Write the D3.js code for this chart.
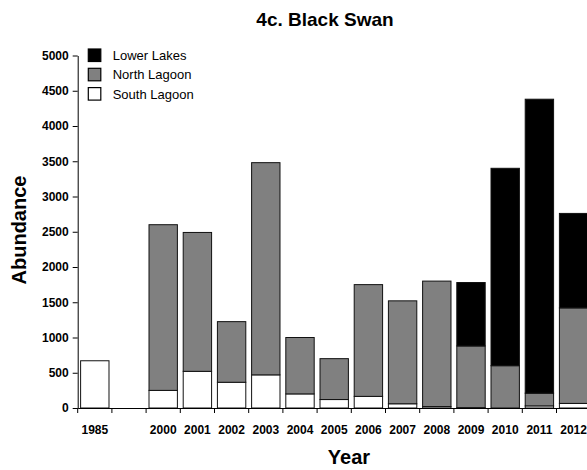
<!DOCTYPE html>
<html><head><meta charset="utf-8">
<script src="https://cdn.jsdelivr.net/npm/d3@7"></script>
<style>body{margin:0;background:#fff}svg{display:block}</style>
</head><body>
<svg id="c" width="587" height="470"></svg>
<script>
const years = ["1985","","2000","2001","2002","2003","2004","2005","2006","2007","2008","2009","2010","2011","2012"];
const southLagoon = [670,0,250,520,365,470,200,120,165,60,20,5,0,30,65];
const northLagoon = [0,0,2350,1970,860,3010,800,580,1585,1460,1780,875,600,180,1355];
const lowerLakes  = [0,0,0,0,0,0,0,0,0,0,0,900,2800,4170,1340];
const seriesKeys = ["South Lagoon","North Lagoon","Lower Lakes"];
const legendOrder = ["Lower Lakes","North Lagoon","South Lagoon"];
const yTicks = [0,500,1000,1500,2000,2500,3000,3500,4000,4500,5000];

const colors = {"Lower Lakes":"#000000","North Lagoon":"#808080","South Lagoon":"#ffffff"};
const font = "'Liberation Sans', Arial, sans-serif";

const rows = years.map((y,i)=>({year:y,"South Lagoon":southLagoon[i],"North Lagoon":northLagoon[i],"Lower Lakes":lowerLakes[i]}));
const stacked = d3.stack().keys(seriesKeys)(rows);

const svg = d3.select("#c");
const x0 = 77.7, x1 = x0 + 15*34.2;
const x = d3.scaleBand().domain(years).range([x0,x1]).paddingInner(0.17).paddingOuter(0.085);
const y = d3.scaleLinear().domain([0,5000]).range([408,55.5]);

// bars
svg.append("g").selectAll("g").data(stacked).join("g")
  .attr("fill", d=>colors[d.key])
  .selectAll("rect").data(d=>d.filter(s=>s[1]-s[0]>0)).join("rect")
  .attr("x", d=>x(d.data.year))
  .attr("width", x.bandwidth())
  .attr("y", d=>y(d[1]))
  .attr("height", d=>y(d[0])-y(d[1]))
  .attr("stroke","#111").attr("stroke-width",1);

// y axis
const ya = svg.append("g").attr("transform",`translate(${x0},0)`)
  .call(d3.axisLeft(y).tickValues(yTicks).tickFormat(d3.format("d")).tickSize(5).tickPadding(4).tickSizeOuter(0));
ya.selectAll("text").attr("font-family",font).attr("font-weight","bold").attr("font-size",12).attr("fill","#000");
ya.selectAll("line,path").attr("stroke","#000");

// x axis
const xa = svg.append("g").attr("transform","translate(0,408)")
  .call(d3.axisBottom(x).tickSize(0).tickPadding(17).tickSizeOuter(0));
xa.select("path").attr("stroke","#000");
xa.selectAll("text").attr("font-family",font).attr("font-weight","bold").attr("font-size",12).attr("fill","#000");
const step = x.step();
svg.append("g").selectAll("line").data(years).join("line")
  .attr("x1", d=>x(d)-step*x.paddingInner()/2).attr("x2", d=>x(d)-step*x.paddingInner()/2)
  .attr("y1",408).attr("y2",413).attr("stroke","#000");

// title
svg.append("text").attr("x",325).attr("y",26).attr("text-anchor","middle")
  .attr("font-family",font).attr("font-weight","bold").attr("font-size",19).text("4c. Black Swan");
svg.append("text").attr("x",349).attr("y",464).attr("text-anchor","middle")
  .attr("font-family",font).attr("font-weight","bold").attr("font-size",20).text("Year");
svg.append("text").attr("transform","translate(26,230) rotate(-90)").attr("text-anchor","middle")
  .attr("font-family",font).attr("font-weight","bold").attr("font-size",20).text("Abundance");

// legend
const lg = svg.append("g").selectAll("g").data(legendOrder).join("g")
  .attr("transform",(d,i)=>`translate(88.3,${49+i*19.3})`);
lg.append("rect").attr("width",12.5).attr("height",12.5).attr("fill",d=>colors[d]).attr("stroke","#000").attr("stroke-width",1.2);
lg.append("text").attr("x",24.4).attr("y",11).attr("font-family",font).attr("font-size",13).text(d=>d);
</script>
</body></html>
